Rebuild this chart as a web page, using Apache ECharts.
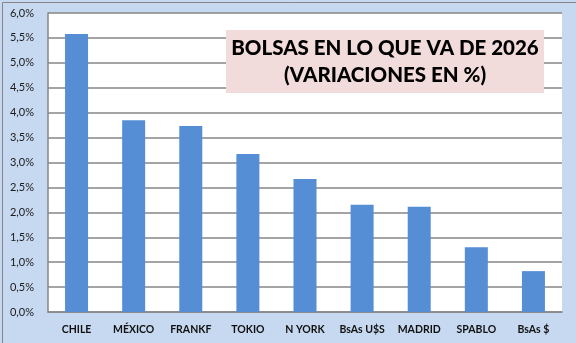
<!DOCTYPE html>
<html><head><meta charset="utf-8">
<script src="https://cdn.jsdelivr.net/npm/echarts@6/dist/echarts.min.js"></script>
<style>html,body{margin:0;padding:0;background:#fff}#c{width:576px;height:343px}</style>
</head><body><div id="c"></div>
<script>
const categories = ['CHILE', 'MÉXICO', 'FRANKF', 'TOKIO', 'N YORK', 'BsAs U$S', 'MADRID', 'SPABLO', 'BsAs $'];
const values = [5.58, 3.85, 3.73, 3.17, 2.67, 2.15, 2.11, 1.30, 0.82];
const titleLines = ['BOLSAS EN LO QUE VA DE 2026', '(VARIACIONES EN %)'];

const chart = echarts.init(document.getElementById('c'), null, {renderer: 'canvas'});
chart.setOption({
  backgroundColor: '#C6D9F1',
  animation: false,
  grid: {left: 48, right: 14, top: 13, bottom: 31, show: true, backgroundColor: '#FFFFFF', borderWidth: 0, containLabel: false},
  xAxis: {
    type: 'category', data: categories,
    axisLine: {show: true, lineStyle: {color: '#868686', width: 1.5}},
    axisTick: {show: false},
    axisLabel: {interval: 0, margin: 12, color: '#111', fontWeight: 'bold', fontSize: 10.5, fontFamily: 'Lato'}
  },
  yAxis: {
    type: 'value', min: 0, max: 6, interval: 0.5,
    axisLine: {show: true, lineStyle: {color: '#868686', width: 1.5}},
    axisTick: {show: false},
    splitLine: {show: true, lineStyle: {color: '#868686', width: 1.5}},
    axisLabel: {margin: 14, color: '#1a1a1a', fontSize: 11, fontFamily: 'Lato',
      formatter: v => v.toFixed(1).replace('.', ',') + '%'}
  },
  series: [{
    type: 'bar', data: values, barWidth: 23,
    itemStyle: {color: '#558ED5'}
  }],
  graphic: [
    {type: 'rect', left: 0, top: 0, z: 100, silent: true,
      shape: {x: 0.5, y: 0.5, width: 575, height: 342},
      style: {fill: 'none', stroke: '#868686', lineWidth: 1}},
    {type: 'rect', z: 50, silent: true,
      shape: {x: 226, y: 30, width: 318, height: 63},
      style: {fill: '#F2DCDB'}},
    {type: 'text', z: 51, silent: true, x: 385, y: 48,
      style: {text: titleLines[0], fill: '#000', font: '900 20.5px Lato', align: 'center', verticalAlign: 'middle'}},
    {type: 'text', z: 51, silent: true, x: 385, y: 75,
      style: {text: titleLines[1], fill: '#000', font: '900 20.5px Lato', align: 'center', verticalAlign: 'middle'}}
  ]
});
</script></body></html>
